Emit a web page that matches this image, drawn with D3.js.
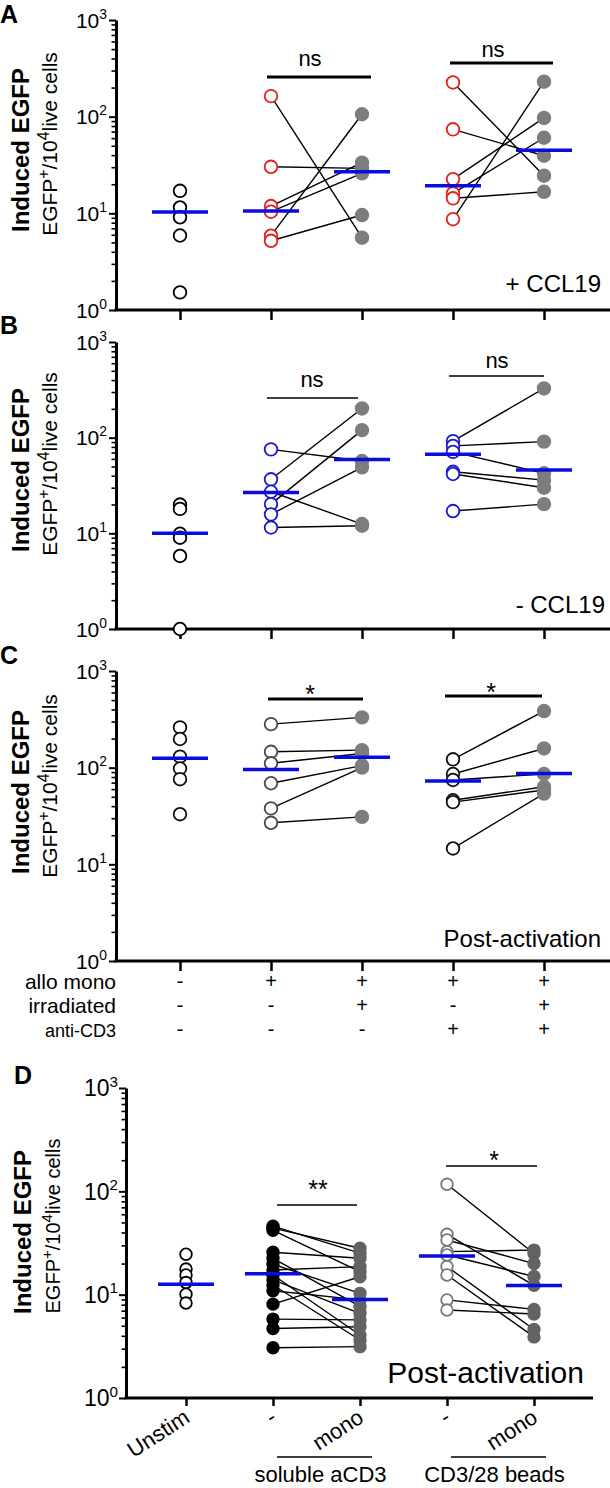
<!DOCTYPE html>
<html><head><meta charset="utf-8">
<script src="https://cdn.jsdelivr.net/npm/d3@7"></script>
<style>
body{margin:0;background:#fff}
svg{display:block}
text{font-family:"Liberation Sans",Arial,sans-serif;fill:#000}
</style>
</head><body>
<svg id="c" width="610" height="1488"></svg>
<script>
// ---------------- DATA ----------------
const majorTicks = [1, 10, 100, 1000];
const tickExponents = ["0", "1", "2", "3"];
const minorTicks = [2,3,4,5,6,7,8,9,20,30,40,50,60,70,80,90,200,300,400,500,600,700,800,900];
const catsABC = ["c1", "c2", "c3", "c4", "c5"];
const catsD = ["Unstim", "solMinus", "solMono", "beadMinus", "beadMono"];

// Panel A (+ CCL19)
const aUnstim = [17.1, 11.5, 9.1, 5.9, 1.52];
const aPre1 = [163, 30.3, 11.9, 10.4, 5.87, 5.2];
const aPost1 = [5.6, 29.2, 33.4, 25.9, 106, 9.6];
const aPre2 = [226, 74, 22.6, 16.1, 14.3, 8.7];
const aPost2 = [24.5, 39.4, 97, 60.5, 16.7, 230];
const aMedians = [10.3, 10.6, 26.9, 19.3, 45];

// Panel B (- CCL19)
const bUnstim = [20, 18, 9.9, 9, 5.8, 1];
const bPre1 = [75.5, 36.7, 27.2, 20.2, 15.8, 11.5];
const bPost1 = [57, 202, 12.5, 120, 49, 12];
const bPre2 = [92, 82, 71, 44, 41.7, 17.1];
const bPost2 = [327, 91, 42.4, 36, 30, 20.2];
const bMedians = [10, 26.8, 59.3, 67, 46];

// Panel C (Post-activation)
const cUnstim = [261, 198, 130, 98, 76, 33];
const cPre1 = [282, 146, 111, 69, 37.9, 26.9];
const cPost1 = [331, 152, 140, 105, 100, 31];
const cPre2 = [122, 86, 74.5, 46, 44, 14.6];
const cPost2 = [385, 158, 86, 63.5, 58.7, 54];
const cMedians = [125, 96, 128, 73, 87];

// Panel D (Post-activation)
const dUnstim = [24.6, 17.7, 15.5, 13.1, 10.1, 8.3];
const dSolPre = [46, 44, 42, 25.7, 22.5, 19.7, 17.3, 15.5, 13.9, 12.4, 10.9, 8.1, 5.8, 4.7, 3.06];
const dSolMono = [25.2, 28.1, 16.7, 22.5, 7.7, 10.3, 18.7, 4.07, 6.6, 3.64, 8.9, 14.9, 5.7, 4.9, 3.14];
const dBeadPre = [117, 38.4, 33.8, 26.1, 24.2, 18.7, 15.5, 8.9, 7.1];
const dBeadMono = [25, 12.3, 20, 27, 15, 4.6, 3.9, 7.2, 6.5];
const dMedians = [12.6, 15.9, 9.0, 23.7, 12.3];

const rowLabels = ["allo mono", "irradiated", "anti-CD3"];
const alloMono = ["-", "+", "+", "+", "+"];
const irradiated = ["-", "-", "+", "-", "+"];
const antiCD3 = ["-", "-", "-", "+", "+"];
const dTickLabels = ["Unstim", "-", "mono", "-", "mono"];
const dGroupLabels = ["soluble aCD3", "CD3/28 beads"];
const panelLetters = ["A", "B", "C", "D"];
const panelNotes = ["+ CCL19", "- CCL19", "Post-activation", "Post-activation"];
const sigA = ["ns", "ns"], sigB = ["ns", "ns"], sigC = ["*", "*"], sigD = ["**", "*"];

// ---------------- DRAW ----------------
const svg = d3.select("#c");
const RED = "#e3211f", BLUE = "#1a1ad0", MED = "#0b0be0", GRAY = "#7d7d7d", DGRAY = "#636363";

function drawPanel(cfg) {
  const g = svg.append("g");
  const y = d3.scaleLog().domain([1, 1000]).range([cfg.bottom, cfg.top]);
  const x = d3.scalePoint().domain(cfg.cats).range([cfg.x0, cfg.x1]);

  const mn = g.append("g").attr("transform", `translate(${cfg.axisX},0)`)
    .call(d3.axisLeft(y).tickValues(minorTicks).tickSize(4.5).tickFormat("").tickSizeOuter(0));
  mn.select(".domain").remove();
  mn.selectAll(".tick line").attr("stroke", "#000").attr("stroke-width", 1.6);
  const mj = g.append("g").attr("transform", `translate(${cfg.axisX},0)`)
    .call(d3.axisLeft(y).tickValues(majorTicks).tickSize(7).tickFormat("").tickSizeOuter(0));
  mj.select(".domain").attr("stroke", "#000").attr("stroke-width", 3);
  mj.selectAll(".tick line").attr("stroke", "#000").attr("stroke-width", 2);
  majorTicks.forEach((v, i) => {
    const t = g.append("text").attr("x", cfg.axisX - cfg.lblGap).attr("y", y(v) + cfg.tickFs * 0.36)
      .attr("text-anchor", "end").style("font-size", cfg.tickFs + "px").text("10");
    t.append("tspan").attr("dy", -cfg.tickFs * 0.42).style("font-size", (cfg.tickFs * 0.66) + "px").text(tickExponents[i]);
  });
  g.append("line").attr("x1", cfg.axisX - 1.5).attr("x2", cfg.xEnd)
    .attr("y1", cfg.bottom).attr("y2", cfg.bottom).attr("stroke", "#000").attr("stroke-width", 3);
  const xa = g.append("g").attr("transform", `translate(0,${cfg.bottom})`)
    .call(d3.axisBottom(x).tickSize(cfg.xTick).tickFormat("").tickSizeOuter(0));
  xa.select(".domain").remove();
  xa.selectAll(".tick line").attr("stroke", "#000").attr("stroke-width", 2.5);

  cfg.pairs.forEach(p => {
    p.pre.forEach((v, i) => {
      g.append("line").attr("x1", x(p.c1)).attr("y1", y(v)).attr("x2", x(p.c2)).attr("y2", y(p.post[i]))
        .attr("stroke", "#000").attr("stroke-width", 1.4);
    });
  });
  cfg.cols.forEach(col => {
    g.selectAll(null).data(col.vals).enter().append("circle")
      .attr("cx", x(col.cat)).attr("cy", d => y(d)).attr("r", cfg.r)
      .attr("fill", col.fill).attr("stroke", col.stroke).attr("stroke-width", col.sw || 1.8);
  });
  cfg.medians.forEach((m, i) => {
    g.append("line").attr("x1", x(cfg.cats[i]) - 28).attr("x2", x(cfg.cats[i]) + 28)
      .attr("y1", y(m)).attr("y2", y(m)).attr("stroke", MED).attr("stroke-width", 3.5);
  });
  cfg.sig.forEach(s => {
    g.append("line").attr("x1", s.x1).attr("x2", s.x2).attr("y1", s.y).attr("y2", s.y)
      .attr("stroke", "#000").attr("stroke-width", s.sw);
    g.append("text").attr("x", s.tx).attr("y", s.ty).attr("text-anchor", "middle")
      .style("font-size", s.fs + "px").text(s.label);
  });
  g.append("text").attr("x", cfg.note.x).attr("y", cfg.note.y).attr("text-anchor", "end")
    .style("font-size", cfg.note.fs + "px").text(cfg.note.text);
  g.append("text").attr("x", cfg.letter.x).attr("y", cfg.letter.y).style("font-size", "25px")
    .style("font-weight", "bold").text(cfg.letter.text);
  g.append("text").attr("transform", `translate(${cfg.title.bx},${cfg.title.cy}) rotate(-90)`)
    .attr("text-anchor", "middle").style("font-size", cfg.title.fs1 + "px").style("font-weight", "bold")
    .text("Induced EGFP");
  const t2 = g.append("text").attr("transform", `translate(${cfg.title.sx},${cfg.title.cy - 6}) rotate(-90)`)
    .attr("text-anchor", "middle").style("font-size", cfg.title.fs2 + "px");
  const f2 = cfg.title.fs2;
  t2.append("tspan").text("EGFP");
  t2.append("tspan").attr("dy", -f2 * 0.4).style("font-size", (f2 * 0.75) + "px").text("+");
  t2.append("tspan").attr("dy", f2 * 0.4).text("/10");
  t2.append("tspan").attr("dy", -f2 * 0.4).style("font-size", (f2 * 0.75) + "px").text("4");
  t2.append("tspan").attr("dy", f2 * 0.4).text("live cells");
  return {x, y, g};
}

const xsABC = {x0: 180, x1: 544, axisX: 116, xEnd: 610, xTick: 10, tickFs: 21, lblGap: 9, r: 6.3};

function abcCols(unstim, pre1, post1, pre2, post2, preStroke, unstimStroke, pre2Stroke) {
  return [
    {cat: "c1", vals: unstim, fill: "#fff", stroke: unstimStroke},
    {cat: "c2", vals: pre1, fill: "#fff", stroke: preStroke},
    {cat: "c3", vals: post1, fill: GRAY, stroke: GRAY},
    {cat: "c4", vals: pre2, fill: "#fff", stroke: pre2Stroke},
    {cat: "c5", vals: post2, fill: GRAY, stroke: GRAY}
  ];
}

drawPanel(Object.assign({}, xsABC, {
  top: 20, bottom: 310, cats: catsABC,
  pairs: [{c1: "c2", c2: "c3", pre: aPre1, post: aPost1}, {c1: "c4", c2: "c5", pre: aPre2, post: aPost2}],
  cols: abcCols(aUnstim, aPre1, aPost1, aPre2, aPost2, RED, "#000", RED),
  medians: aMedians,
  sig: [{x1: 267, x2: 371, y: 77, sw: 3, tx: 310, ty: 66, fs: 22, label: sigA[0]},
        {x1: 450, x2: 553, y: 63, sw: 3, tx: 493, ty: 57, fs: 22, label: sigA[1]}],
  note: {x: 601, y: 292, fs: 24, text: panelNotes[0]},
  letter: {x: 0, y: 23, text: panelLetters[0]},
  title: {bx: 29, sx: 57, cy: 150, fs1: 24, fs2: 21}
}));

drawPanel(Object.assign({}, xsABC, {
  top: 342, bottom: 629, cats: catsABC,
  pairs: [{c1: "c2", c2: "c3", pre: bPre1, post: bPost1}, {c1: "c4", c2: "c5", pre: bPre2, post: bPost2}],
  cols: abcCols(bUnstim, bPre1, bPost1, bPre2, bPost2, BLUE, "#000", BLUE),
  medians: bMedians,
  sig: [{x1: 267, x2: 358, y: 398, sw: 1.5, tx: 312, ty: 387, fs: 22, label: sigB[0]},
        {x1: 449, x2: 544, y: 376, sw: 1.5, tx: 497, ty: 368, fs: 22, label: sigB[1]}],
  note: {x: 605, y: 613, fs: 24, text: panelNotes[1]},
  letter: {x: 0, y: 334, text: panelLetters[1]},
  title: {bx: 29, sx: 57, cy: 470, fs1: 24, fs2: 21}
}));

drawPanel(Object.assign({}, xsABC, {
  top: 671, bottom: 961, cats: catsABC,
  pairs: [{c1: "c2", c2: "c3", pre: cPre1, post: cPost1}, {c1: "c4", c2: "c5", pre: cPre2, post: cPost2}],
  cols: abcCols(cUnstim, cPre1, cPost1, cPre2, cPost2, "#4a4a4a", "#111", "#111"),
  medians: cMedians,
  sig: [{x1: 268, x2: 363, y: 699, sw: 3, tx: 310, ty: 703, fs: 25, label: sigC[0]},
        {x1: 445, x2: 542, y: 696, sw: 3, tx: 491, ty: 701, fs: 25, label: sigC[1]}],
  note: {x: 601, y: 947, fs: 24, text: panelNotes[2]},
  letter: {x: 0, y: 664, text: panelLetters[2]},
  title: {bx: 29, sx: 57, cy: 792, fs1: 24, fs2: 21}
}));

{
  const x = d3.scalePoint().domain(catsABC).range([180, 544]);
  const rows = [alloMono, irradiated, antiCD3];
  const rowY = [989, 1013, 1037];
  const rowFs = [21, 21, 18];
  rows.forEach((row, r) => {
    svg.append("text").attr("x", 116).attr("y", rowY[r]).attr("text-anchor", "end")
      .style("font-size", rowFs[r] + "px").text(rowLabels[r]);
    row.forEach((s, i) => {
      svg.append("text").attr("x", x(catsABC[i])).attr("y", rowY[r] - 1).attr("text-anchor", "middle")
        .style("font-size", "20px").text(s);
    });
  });
}

const pd = drawPanel({
  top: 1088, bottom: 1398, cats: catsD, x0: 186, x1: 534, axisX: 126, xEnd: 593, xTick: 8,
  tickFs: 23, lblGap: 8, r: 5.8,
  pairs: [{c1: "solMinus", c2: "solMono", pre: dSolPre, post: dSolMono},
          {c1: "beadMinus", c2: "beadMono", pre: dBeadPre, post: dBeadMono}],
  cols: [
    {cat: "Unstim", vals: dUnstim, fill: "#fff", stroke: "#000"},
    {cat: "solMinus", vals: dSolPre, fill: "#000", stroke: "#000"},
    {cat: "solMono", vals: dSolMono, fill: DGRAY, stroke: DGRAY},
    {cat: "beadMinus", vals: dBeadPre, fill: "#fff", stroke: "#777"},
    {cat: "beadMono", vals: dBeadMono, fill: DGRAY, stroke: DGRAY}
  ],
  medians: dMedians,
  sig: [{x1: 277, x2: 357, y: 1205, sw: 1.5, tx: 318, ty: 1198, fs: 25, label: sigD[0]},
        {x1: 446, x2: 537, y: 1166, sw: 1.5, tx: 494, ty: 1169, fs: 25, label: sigD[1]}],
  note: {x: 584, y: 1383, fs: 30, text: panelNotes[3]},
  letter: {x: 14, y: 1084, text: panelLetters[3]},
  title: {bx: 31, sx: 60, cy: 1232, fs1: 24, fs2: 20}
});

dTickLabels.forEach((lab, i) => {
  const cx = pd.x(catsD[i]);
  svg.append("text").attr("transform", `translate(${cx + 5},${1421}) rotate(-33)`)
    .attr("text-anchor", "end").style("font-size", "22px").text(lab);
});
[[catsD[1], catsD[2]], [catsD[3], catsD[4]]].forEach((pr, i) => {
  const a = pd.x(pr[0]), b = pd.x(pr[1]);
  svg.append("line").attr("x1", a + 4).attr("x2", b + 12).attr("y1", 1457).attr("y2", 1457)
    .attr("stroke", "#000").attr("stroke-width", 1.3);
  svg.append("text").attr("x", (a + b) / 2 + 4).attr("y", 1482)
    .attr("text-anchor", "middle").style("font-size", "22px").text(dGroupLabels[i]);
});
</script>
</body></html>
